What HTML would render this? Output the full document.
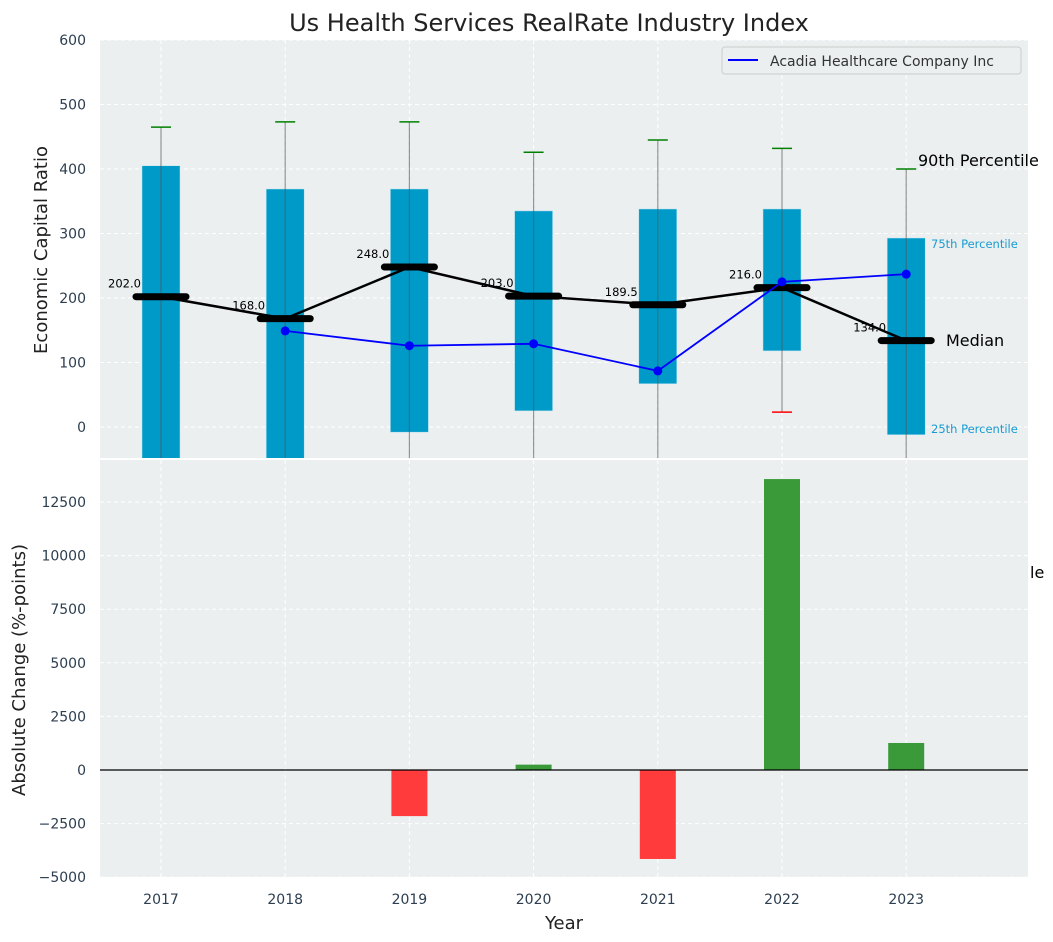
<!DOCTYPE html>
<html><head><meta charset="utf-8"><style>
body{margin:0;background:#fff;font-family:"Liberation Sans","DejaVu Sans",sans-serif}
svg{display:block}
text{font-family:"DejaVu Sans","Liberation Sans",sans-serif}
</style></head><body>
<svg id="chart" width="1053" height="942"></svg>
<script>
const years=[2017,2018,2019,2020,2021,2022,2023];
const p75=[405,369,369,335,338,338,293];
const p25=[-100,-100,-8,25,67,118,-12];
const p90=[465,473,473,426,445,432,400];
const p10=[-150,-150,-150,-150,-150,23,-150];
const medians=[202,168,248,203,189.5,216,134];
const companyYears=[2018,2019,2020,2021,2022,2023];
const companyVals=[149,126,129,87,225,237];
const changes=[0,0,-2150,250,-4150,13570,1260];
const topTicks=[0,100,200,300,400,500,600];
const botTicks=[-5000,-2500,0,2500,5000,7500,10000,12500];

const NS="http://www.w3.org/2000/svg";
const svg=document.getElementById('chart');
function el(tag,attrs,parent){const e=document.createElementNS(NS,tag);for(const k in attrs)e.setAttribute(k,attrs[k]);(parent||svg).appendChild(e);return e;}
const X=y=>161+(y-2017)*124.2;
const Y1=v=>427-v*0.645;
const Y2=v=>770-v*53.6/2500;
const L=100,R=1028;

// backgrounds
let bg1=el('rect',{x:L,y:40,width:R-L,height:418,fill:'#ebeff0'});


let bg2=el('rect',{x:L,y:460,width:R-L,height:417,fill:'#ebeff0'});



const clip=el('clipPath',{id:'c1'});el('rect',{x:L,y:40,width:R-L,height:418},clip);
const clip2=el('clipPath',{id:'c2'});el('rect',{x:L,y:460,width:R-L,height:417},clip2);

// grid
years.forEach(y=>{
  el('line',{x1:X(y),x2:X(y),y1:40,y2:458,stroke:'#fff','stroke-dasharray':'4,3'});
  el('line',{x1:X(y),x2:X(y),y1:460,y2:877,stroke:'#fff','stroke-dasharray':'4,3'});
  let t=el('text',{x:X(y),y:904,'text-anchor':'middle','font-size':14,fill:'#2c3e50'});t.textContent=y;
  
  
});
topTicks.forEach(v=>{
  el('line',{x1:L,x2:R,y1:Y1(v),y2:Y1(v),stroke:'#fff','stroke-dasharray':'4,3'});
  let t=el('text',{x:86,y:Y1(v)+5,'text-anchor':'end','font-size':14,fill:'#2c3e50'});t.textContent=v;
  
  
});
botTicks.forEach(v=>{
  el('line',{x1:L,x2:R,y1:Y2(v),y2:Y2(v),stroke:'#fff','stroke-dasharray':'4,3'});
  let t=el('text',{x:86,y:Y2(v)+5,'text-anchor':'end','font-size':14,fill:'#2c3e50'});t.textContent=(v<0?'\u2212'+(-v):v);
  
  
});

// top chart
const g1=el('g',{'clip-path':'url(#c1)'});
years.forEach((y,i)=>{
  let b=el('rect',{x:X(y)-19,y:Y1(p75[i]),width:38,height:Y1(p25[i])-Y1(p75[i]),fill:'#009ac9',stroke:'#bfe3f0','stroke-width':0.5},g1);
  
  
  el('line',{x1:X(y),x2:X(y),y1:Y1(p90[i]),y2:Y1(p10[i]),stroke:'#555','stroke-opacity':0.6,'stroke-width':1.2},g1);
  let c=el('line',{x1:X(y)-10,x2:X(y)+10,y1:Y1(p90[i]),y2:Y1(p90[i]),stroke:'green','stroke-width':1.5},g1);
  
  
  if(p10[i]>-48){let r=el('line',{x1:X(y)-10,x2:X(y)+10,y1:Y1(p10[i]),y2:Y1(p10[i]),stroke:'red','stroke-width':1.5},g1);
  
  }
});
let mp=el('polyline',{points:years.map((y,i)=>X(y)+','+Y1(medians[i])).join(' '),fill:'none',stroke:'#000','stroke-width':2.5},g1);


years.forEach((y,i)=>{
  let m=el('line',{x1:X(y)-25,x2:X(y)+25,y1:Y1(medians[i]),y2:Y1(medians[i]),stroke:'#000','stroke-width':7,'stroke-linecap':'round'},g1);
  
  
  let t=el('text',{x:X(y)-53,y:Y1(medians[i])-9,'font-size':11.5,fill:'#000'},g1);t.textContent=medians[i].toFixed(1);
  
  
});
let cl=el('polyline',{points:companyYears.map((y,i)=>X(y)+','+Y1(companyVals[i])).join(' '),fill:'none',stroke:'blue','stroke-width':1.8},g1);


companyYears.forEach((y,i)=>{
  let d=el('circle',{cx:X(y),cy:Y1(companyVals[i]),r:4.5,fill:'blue'},g1);
  
  
});

// annotations
function txt(x,y,s,size,fill,name){let t=el('text',{x:x,y:y,'font-size':size,fill:fill});t.textContent=s;

return t;}
txt(918,166,'90th Percentile',16,'#000','p90-annotation');
txt(946,346,'Median',16,'#000','median-annotation');
txt(931,248,'75th Percentile',11.5,'#1a9bd0','p75-annotation');
txt(931,433,'25th Percentile',11.5,'#1a9bd0','p25-annotation');
txt(1030,578,'le',16,'#000','clipped-annotation');

// legend
let lg=el('rect',{x:722,y:47,width:299,height:27,rx:3,fill:'#ebeff0',stroke:'#ccc'});


el('line',{x1:728,x2:758,y1:60,y2:60,stroke:'blue','stroke-width':2});
txt(770,66,'Acadia Healthcare Company Inc',14,'#333','legend-entry');

// bottom chart
const g2=el('g',{'clip-path':'url(#c2)'});
years.forEach((y,i)=>{
  const v=changes[i];if(v===0)return;
  let b=el('rect',{x:X(y)-18,y:Math.min(Y2(v),Y2(0)),width:36,height:Math.abs(Y2(v)-Y2(0)),fill:v>0?'#3a9a3a':'#ff3b3b'},g2);
  
  
});
el('line',{x1:L,x2:R,y1:Y2(0),y2:Y2(0),stroke:'#000','stroke-width':1.2});

// titles
let ti=el('text',{x:549,y:31,'text-anchor':'middle','font-size':24,fill:'#222'});ti.textContent='Us Health Services RealRate Industry Index';


let yl=el('text',{transform:'translate(47,250) rotate(-90)','text-anchor':'middle','font-size':18,fill:'#222'});yl.textContent='Economic Capital Ratio';


let yl2=el('text',{transform:'translate(25,670) rotate(-90)','text-anchor':'middle','font-size':18,fill:'#222'});yl2.textContent='Absolute Change (%-points)';


let xl=el('text',{x:564,y:929,'text-anchor':'middle','font-size':18,fill:'#222'});xl.textContent='Year';


</script>
</body></html>
